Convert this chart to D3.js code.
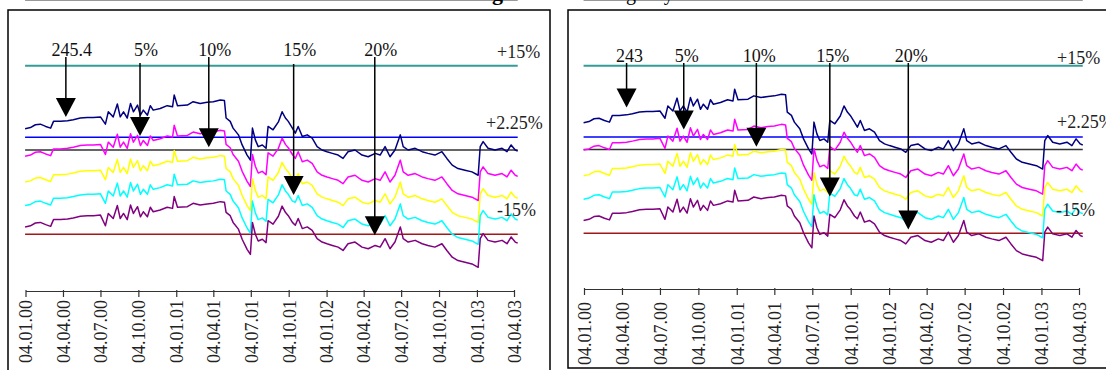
<!DOCTYPE html>
<html>
<head>
<meta charset="utf-8">
<script src="https://cdn.jsdelivr.net/npm/d3@7"></script>
<style>
  body { margin: 0; background: #fff; }
  svg { display: block; font-family: 'Liberation Serif', 'Times New Roman', serif; }
</style>
</head>
<body>
<svg id="chart" width="1106" height="370"></svg>
<script>
// sample dates (shared by every series)
const dates = [
  '2000-01-03','2000-01-16','2000-01-28','2000-02-09','2000-02-22','2000-03-05','2000-03-12','2000-03-29','2000-04-15','2000-04-29',
  '2000-05-16','2000-06-02','2000-06-17','2000-07-04','2000-07-16','2000-07-23','2000-08-04','2000-08-14','2000-08-21','2000-08-29',
  '2000-09-07','2000-09-15','2000-09-22','2000-10-02','2000-10-09','2000-10-16','2000-10-26','2000-11-02','2000-11-09','2000-11-26',
  '2000-12-13','2000-12-26','2000-12-30','2001-01-07','2001-01-31','2001-02-14','2001-03-03','2001-03-20','2001-04-04','2001-04-21',
  '2001-05-01','2001-05-05','2001-05-15','2001-05-22','2001-06-04','2001-06-13','2001-06-25','2001-07-03','2001-07-08','2001-07-15',
  '2001-07-22','2001-08-01','2001-08-10','2001-08-15','2001-08-27','2001-09-09','2001-09-18','2001-09-26','2001-10-03','2001-10-13',
  '2001-10-20','2001-10-27','2001-11-06','2001-11-18','2001-11-30','2001-12-12','2001-12-24','2002-01-05','2002-01-18','2002-02-01',
  '2002-02-13','2002-02-25','2002-03-14','2002-03-31','2002-04-15','2002-05-02','2002-05-14','2002-05-26','2002-06-07','2002-06-19',
  '2002-07-02','2002-07-09','2002-07-21','2002-08-07','2002-08-24','2002-09-07','2002-09-24','2002-10-11','2002-10-23','2002-11-05',
  '2002-11-19','2002-12-06','2002-12-23','2003-01-07','2003-01-12','2003-01-19','2003-01-31','2003-02-17','2003-03-06','2003-03-18',
  '2003-03-28','2003-04-07','2003-04-13'
]

const tickDates = [
  '2000-01-04','2000-04-04','2000-07-04','2000-10-04','2001-01-04','2001-04-04','2001-07-04',
  '2001-10-04','2002-01-04','2002-04-04','2002-07-04','2002-10-04','2003-01-04','2003-04-04'
]

// deviation from parity, % (left panel: parity 245.4)
const navyLeft = [
  3.8,4.0,4.5,4.6,4.2,3.9,5.1,5.1,5.2,5.4,5.7,5.8,5.8,5.9,
  4.6,6.8,5.9,8.2,5.9,6.8,5.7,8.3,6.8,8.0,6.2,7.1,6.2,7.9,7.1,7.4,7.9,7.7,9.8,7.9,8.0,8.6,8.3,8.5,8.6,8.9,8.8,
  5.7,5.1,3.9,2.7,0.9,-0.9,-1.8,3.9,1.8,0.6,0.9,0.3,4.2,3.6,5.0,6.8,5.7,5.1,3.9,
  3.0,4.2,2.4,2.7,2.1,0.6,0.0,-0.3,-0.6,-0.9,-1.5,-0.3,0.0,-0.9,-1.2,-0.6,-0.9,0.6,-1.2,0.0,
  2.7,0.6,0.0,0.3,-0.3,-0.6,-0.9,-0.3,-1.5,-2.7,-3.3,-3.6,-3.9,-4.5,0.6,1.5,0.3,0.0,0.3,-0.3,0.9,0.0,-0.2
]
const magentaLeft = [
  -1.1,-0.9,-0.4,-0.3,-0.7,-1.0,0.2,0.2,0.3,0.5,0.8,0.9,0.9,1.0,
  -0.8,1.4,0.5,2.8,0.5,1.4,0.3,2.9,1.4,2.6,0.8,1.7,0.8,2.5,1.7,2.0,2.5,2.3,4.4,2.5,2.6,3.2,2.9,3.1,3.2,3.5,3.4,
  1.0,0.4,-0.8,-2.0,-3.8,-5.6,-6.5,-0.8,-2.9,-4.1,-3.8,-4.4,-0.5,-1.1,0.3,2.1,1.0,0.4,-0.8,
  -1.5,-0.3,-2.1,-1.8,-2.4,-3.9,-4.5,-4.8,-5.1,-5.4,-6.0,-4.8,-4.5,-5.4,-5.7,-5.1,-5.4,-3.9,-5.7,-4.5,
  -1.8,-3.9,-4.5,-4.2,-4.8,-5.1,-5.4,-4.8,-6.0,-7.2,-7.8,-8.1,-8.4,-9.0,-3.9,-3.0,-4.2,-4.5,-4.2,-4.8,-3.6,-4.5,-4.7
]
const yellowLeft = [
  -5.7,-5.5,-5.0,-4.9,-5.3,-5.6,-4.4,-4.4,-4.3,-4.1,-3.8,-3.7,-3.7,-3.6,
  -5.3,-3.1,-4.0,-1.7,-4.0,-3.1,-4.2,-1.6,-3.1,-1.9,-3.7,-2.8,-3.7,-2.0,-2.8,-2.5,-2.0,-2.2,-0.1,-2.0,-1.9,-1.3,-1.6,-1.4,-1.3,-1.0,-1.1,
  -3.3,-3.9,-5.1,-6.3,-8.1,-9.9,-10.8,-5.1,-7.2,-8.4,-8.1,-8.7,-4.8,-5.4,-4.0,-2.2,-3.3,-3.9,-5.1,
  -5.4,-4.2,-6.0,-5.7,-6.3,-7.8,-8.4,-8.7,-9.0,-9.3,-9.9,-8.7,-8.4,-9.3,-9.6,-9.0,-9.3,-7.8,-9.6,-8.4,
  -5.7,-7.8,-8.4,-8.1,-8.7,-9.0,-9.3,-8.7,-9.9,-11.1,-11.7,-12.0,-12.3,-12.9,-7.8,-6.9,-8.1,-8.4,-8.1,-8.7,-7.5,-8.4,-8.6
]
const cyanLeft = [
  -9.9,-9.7,-9.2,-9.1,-9.5,-9.8,-8.6,-8.6,-8.5,-8.3,-8.0,-7.9,-7.9,-7.8,
  -9.5,-7.3,-8.2,-5.9,-8.2,-7.3,-8.4,-5.8,-7.3,-6.1,-7.9,-7.0,-7.9,-6.2,-7.0,-6.7,-6.2,-6.4,-4.3,-6.2,-6.1,-5.5,-5.8,-5.6,-5.5,-5.2,-5.3,
  -7.3,-7.9,-9.1,-10.3,-12.1,-13.9,-14.8,-9.1,-11.2,-12.4,-12.1,-12.7,-8.8,-9.4,-8.0,-6.2,-7.3,-7.9,-9.1,
  -9.3,-8.1,-9.9,-9.6,-10.2,-11.7,-12.3,-12.6,-12.9,-13.2,-13.8,-12.6,-12.3,-13.2,-13.5,-12.9,-13.2,-11.7,-13.5,-12.3,
  -9.6,-11.7,-12.3,-12.0,-12.6,-12.9,-13.2,-12.6,-13.8,-15.0,-15.6,-15.9,-16.2,-16.8,-11.7,-10.8,-12.0,-12.3,-12.0,-12.6,-11.4,-12.3,-12.5
]
const purpleLeft = [
  -13.7,-13.5,-13.0,-12.9,-13.3,-13.6,-12.4,-12.4,-12.3,-12.1,-11.8,-11.7,-11.7,-11.6,
  -13.5,-11.3,-12.2,-9.9,-12.2,-11.3,-12.4,-9.8,-11.3,-10.1,-11.9,-11.0,-11.9,-10.2,-11.0,-10.7,-10.2,-10.4,-8.3,-10.2,-10.1,-9.5,-9.8,-9.6,-9.5,-9.2,-9.3,
  -11.1,-11.7,-12.9,-14.1,-15.9,-17.7,-18.6,-12.9,-15.0,-16.2,-15.9,-16.5,-12.6,-13.2,-11.8,-10.0,-11.1,-11.7,-12.9,
  -13.4,-12.2,-14.0,-13.7,-14.3,-15.8,-16.4,-16.7,-17.0,-17.3,-17.9,-16.7,-16.4,-17.3,-17.6,-17.0,-17.3,-15.8,-17.6,-16.4,
  -13.7,-15.8,-16.4,-16.1,-16.7,-17.0,-17.3,-16.7,-17.9,-19.1,-19.7,-20.0,-20.3,-20.9,-15.8,-14.9,-16.1,-16.4,-16.1,-16.7,-15.5,-16.4,-16.6
]

// deviation from parity, % (right panel: parity 243)
const navyRight = [
  4.8,5.0,5.5,5.6,5.2,4.9,6.1,6.1,6.2,6.4,6.7,6.8,6.8,6.9,
  5.6,7.8,6.9,9.2,6.9,7.8,6.7,9.3,7.8,9.0,7.2,8.1,7.2,8.9,8.1,8.4,8.9,8.7,10.8,8.9,9.0,9.6,9.3,9.5,9.6,9.9,9.8,
  6.7,6.1,4.9,3.7,1.9,0.1,-0.8,4.9,2.8,1.6,1.9,1.3,5.2,4.6,6.0,7.8,6.7,6.1,4.9,
  4.0,5.2,3.4,3.7,3.1,1.6,1.0,0.7,0.4,0.1,-0.5,0.7,1.0,0.1,-0.2,0.4,0.1,1.6,-0.2,1.0,
  3.7,1.6,1.0,1.3,0.7,0.4,0.1,0.7,-0.5,-1.7,-2.3,-2.6,-2.9,-3.5,1.6,2.5,1.3,1.0,1.3,0.7,1.9,1.0,0.8
]
const magentaRight = [
  -0.1,0.1,0.6,0.7,0.3,0.0,1.2,1.2,1.3,1.5,1.8,1.9,1.9,2.0,
  0.2,2.4,1.5,3.8,1.5,2.4,1.3,3.9,2.4,3.6,1.8,2.7,1.8,3.5,2.7,3.0,3.5,3.3,5.4,3.5,3.6,4.2,3.9,4.1,4.2,4.5,4.4,
  2.0,1.4,0.2,-1.0,-2.8,-4.6,-5.5,0.2,-1.9,-3.1,-2.8,-3.4,0.5,-0.1,1.3,3.1,2.0,1.4,0.2,
  -0.5,0.7,-1.1,-0.8,-1.4,-2.9,-3.5,-3.8,-4.1,-4.4,-5.0,-3.8,-3.5,-4.4,-4.7,-4.1,-4.4,-2.9,-4.7,-3.5,
  -0.8,-2.9,-3.5,-3.2,-3.8,-4.1,-4.4,-3.8,-5.0,-6.2,-6.8,-7.1,-7.4,-8.0,-2.9,-2.0,-3.2,-3.5,-3.2,-3.8,-2.6,-3.5,-3.7
]
const yellowRight = [
  -4.7,-4.5,-4.0,-3.9,-4.3,-4.6,-3.4,-3.4,-3.3,-3.1,-2.8,-2.7,-2.7,-2.6,
  -4.3,-2.1,-3.0,-0.7,-3.0,-2.1,-3.2,-0.6,-2.1,-0.9,-2.7,-1.8,-2.7,-1.0,-1.8,-1.5,-1.0,-1.2,0.9,-1.0,-0.9,-0.3,-0.6,-0.4,-0.3,0.0,-0.1,
  -2.3,-2.9,-4.1,-5.3,-7.1,-8.9,-9.8,-4.1,-6.2,-7.4,-7.1,-7.7,-3.8,-4.4,-3.0,-1.2,-2.3,-2.9,-4.1,
  -4.4,-3.2,-5.0,-4.7,-5.3,-6.8,-7.4,-7.7,-8.0,-8.3,-8.9,-7.7,-7.4,-8.3,-8.6,-8.0,-8.3,-6.8,-8.6,-7.4,
  -4.7,-6.8,-7.4,-7.1,-7.7,-8.0,-8.3,-7.7,-8.9,-10.1,-10.7,-11.0,-11.3,-11.9,-6.8,-5.9,-7.1,-7.4,-7.1,-7.7,-6.5,-7.4,-7.6
]
const cyanRight = [
  -8.9,-8.7,-8.2,-8.1,-8.5,-8.8,-7.6,-7.6,-7.5,-7.3,-7.0,-6.9,-6.9,-6.8,
  -8.5,-6.3,-7.2,-4.9,-7.2,-6.3,-7.4,-4.8,-6.3,-5.1,-6.9,-6.0,-6.9,-5.2,-6.0,-5.7,-5.2,-5.4,-3.3,-5.2,-5.1,-4.5,-4.8,-4.6,-4.5,-4.2,-4.3,
  -6.3,-6.9,-8.1,-9.3,-11.1,-12.9,-13.8,-8.1,-10.2,-11.4,-11.1,-11.7,-7.8,-8.4,-7.0,-5.2,-6.3,-6.9,-8.1,
  -8.3,-7.1,-8.9,-8.6,-9.2,-10.7,-11.3,-11.6,-11.9,-12.2,-12.8,-11.6,-11.3,-12.2,-12.5,-11.9,-12.2,-10.7,-12.5,-11.3,
  -8.6,-10.7,-11.3,-11.0,-11.6,-11.9,-12.2,-11.6,-12.8,-14.0,-14.6,-14.9,-15.2,-15.8,-10.7,-9.8,-11.0,-11.3,-11.0,-11.6,-10.4,-11.3,-11.5
]
const purpleRight = [
  -12.7,-12.5,-12.0,-11.9,-12.3,-12.6,-11.4,-11.4,-11.3,-11.1,-10.8,-10.7,-10.7,-10.6,
  -12.5,-10.3,-11.2,-8.9,-11.2,-10.3,-11.4,-8.8,-10.3,-9.1,-10.9,-10.0,-10.9,-9.2,-10.0,-9.7,-9.2,-9.4,-7.3,-9.2,-9.1,-8.5,-8.8,-8.6,-8.5,-8.2,-8.3,
  -10.1,-10.7,-11.9,-13.1,-14.9,-16.7,-17.6,-11.9,-14.0,-15.2,-14.9,-15.5,-11.6,-12.2,-10.8,-9.0,-10.1,-10.7,-11.9,
  -12.4,-11.2,-13.0,-12.7,-13.3,-14.8,-15.4,-15.7,-16.0,-16.3,-16.9,-15.7,-15.4,-16.3,-16.6,-16.0,-16.3,-14.8,-16.6,-15.4,
  -12.7,-14.8,-15.4,-15.1,-15.7,-16.0,-16.3,-15.7,-16.9,-18.1,-18.7,-19.0,-19.3,-19.9,-14.8,-13.9,-15.1,-15.4,-15.1,-15.7,-14.5,-15.4,-15.6
]

// band lines
const bandLevels = [15, 2.25, 0, -15]
const bandLabels = ['+15%', '+2.25%', null, '-15%']

// arrow annotations
const leftMarkLabels = ['245.4', '5%', '10%', '15%', '20%']
const leftMarkDates = ['2000-04-11', '2000-10-08', '2001-03-24', '2001-10-16', '2002-05-01']
const leftMarkTips = [5.9, 2.5, 0.5, -8.0, -15.2]

const rightMarkLabels = ['243', '5%', '10%', '15%', '20%']
const rightMarkDates = ['2000-04-15', '2000-08-30', '2001-02-20', '2001-08-15', '2002-02-19']
const rightMarkTips = [7.5, 3.6, 0.5, -8.4, -14.3]

const parseDate = d3.timeParse('%Y-%m-%d')
const seriesColors = ['#000080', '#ff00ff', '#ffff00', '#00ffff', '#800080']
const bandColors = ['#339c96', '#0000ff', '#333333', '#a01818']

const svg = d3.select('#chart')

const drawPanel = (panel) => {
  const g = svg.append('g')

  const x = d3.scaleTime()
    .domain([parseDate('2000-01-04'), parseDate('2003-04-04')])
    .range(panel.xRange)
  const y = d3.scaleLinear().domain([-15, 15]).range(panel.yRange)

  const first = x(parseDate(dates[0]))
  const last = x(parseDate(dates[dates.length - 1]))

  // light rule along the top
  g.append('line')
    .attr('x1', first).attr('x2', last)
    .attr('y1', 0.5).attr('y2', 0.5)
    .attr('stroke', '#999')

  // frame
  g.append('rect')
    .attr('x', panel.frame[0]).attr('y', panel.frame[1])
    .attr('width', panel.frame[2]).attr('height', panel.frame[3])
    .attr('fill', 'none')
    .attr('stroke', '#000')
    .attr('stroke-width', 1.5)

  // band lines
  g.selectAll('.band')
    .data(bandLevels)
    .enter()
    .append('line')
    .attr('class', 'band')
    .attr('x1', first).attr('x2', last)
    .attr('y1', (d) => y(d)).attr('y2', (d) => y(d))
    .attr('stroke', (d, i) => bandColors[i])
    .attr('stroke-width', (d, i) => i === 0 ? 2 : 1.5)

  // series
  const line = d3.line()
    .x((d, i) => x(parseDate(dates[i])))
    .y((d) => y(d))

  g.selectAll('.series')
    .data(panel.series)
    .enter()
    .append('path')
    .attr('class', 'series')
    .attr('d', line)
    .attr('fill', 'none')
    .attr('stroke', (d, i) => seriesColors[i])
    .attr('stroke-width', 1.5)
    .attr('stroke-linejoin', 'round')

  // band labels
  bandLabels.forEach((label, i) => {
    if (!label) return
    g.append('text')
      .attr('x', panel.bandLabelX[i])
      .attr('y', y(bandLevels[i]) + panel.bandLabelDy[i])
      .attr('font-size', 18)
      .attr('fill', '#222')
      .text(label)
  })

  // arrows
  panel.marks.labels.forEach((label, i) => {
    const ax = x(parseDate(panel.marks.dates[i]))
    const tip = y(panel.marks.tips[i])

    g.append('line')
      .attr('x1', ax).attr('x2', ax)
      .attr('y1', panel.marks.top[i]).attr('y2', tip - 10)
      .attr('stroke', '#000')
      .attr('stroke-width', 1.5)

    g.append('path')
      .attr('d', `M${ax - 10},${tip - 19}L${ax + 10},${tip - 19}L${ax},${tip}Z`)
      .attr('fill', '#000')

    g.append('text')
      .attr('x', ax + panel.marks.dx)
      .attr('y', panel.marks.baseline)
      .attr('text-anchor', 'middle')
      .attr('font-size', 18)
      .attr('fill', '#111')
      .text(label)
  })

  // date axis
  const axis = d3.axisBottom(x)
    .tickValues(tickDates.map(parseDate))
    .tickFormat(d3.timeFormat('%d.%m.%y'))
    .tickSize(6)
    .tickSizeOuter(0)

  const gAxis = g.append('g')
    .attr('transform', `translate(0,${panel.axisY})`)
    .call(axis)
    .attr('font-family', null)
    .attr('font-size', null)

  gAxis.select('.domain').attr('stroke', '#333').attr('stroke-width', 1.2)
  gAxis.selectAll('.tick line').attr('y1', -1).attr('stroke', '#333').attr('stroke-width', 1.2)
  gAxis.selectAll('.tick text')
    .attr('transform', 'rotate(-90)')
    .attr('x', panel.labelGap)
    .attr('y', 0)
    .attr('dy', '0.35em')
    .attr('text-anchor', 'end')
    .attr('font-size', 18)
    .attr('fill', '#222')
}

drawPanel({
  xRange: [25.5, 514],
  yRange: [234.2, 65.8],
  frame: [8, 10, 542, 420],
  axisY: 291,
  labelGap: -9,
  series: [navyLeft, magentaLeft, yellowLeft, cyanLeft, purpleLeft],
  bandLabelX: [497, 486, null, 497],
  bandLabelDy: [-8, -8, 0, -18],
  marks: {
    labels: leftMarkLabels, dates: leftMarkDates, tips: leftMarkTips,
    top: [57, 63, 57, 64, 57], dx: 6, baseline: 56,
  },
})

drawPanel({
  xRange: [584, 1079],
  yRange: [233.3, 65.7],
  frame: [568, 10, 600, 358],
  axisY: 289,
  labelGap: -13,
  series: [navyRight, magentaRight, yellowRight, cyanRight, purpleRight],
  bandLabelX: [1057, 1057, null, 1056],
  bandLabelDy: [-2, -9, 0, -17],
  marks: {
    labels: rightMarkLabels, dates: rightMarkDates, tips: rightMarkTips,
    top: [63, 63, 63, 63, 63], dx: 3, baseline: 62,
  },
})

// title: only its descenders fall inside the picture
svg.append('text')
  .attr('x', 503).attr('y', -0.5)
  .attr('text-anchor', 'end')
  .attr('font-size', 22)
  .attr('font-weight', 'bold')
  .text('Scenarios of ERM II timing')

svg.append('text')
  .attr('x', 576).attr('y', -0.5)
  .attr('font-size', 20)
  .text('contingency')
</script>
</body>
</html>
